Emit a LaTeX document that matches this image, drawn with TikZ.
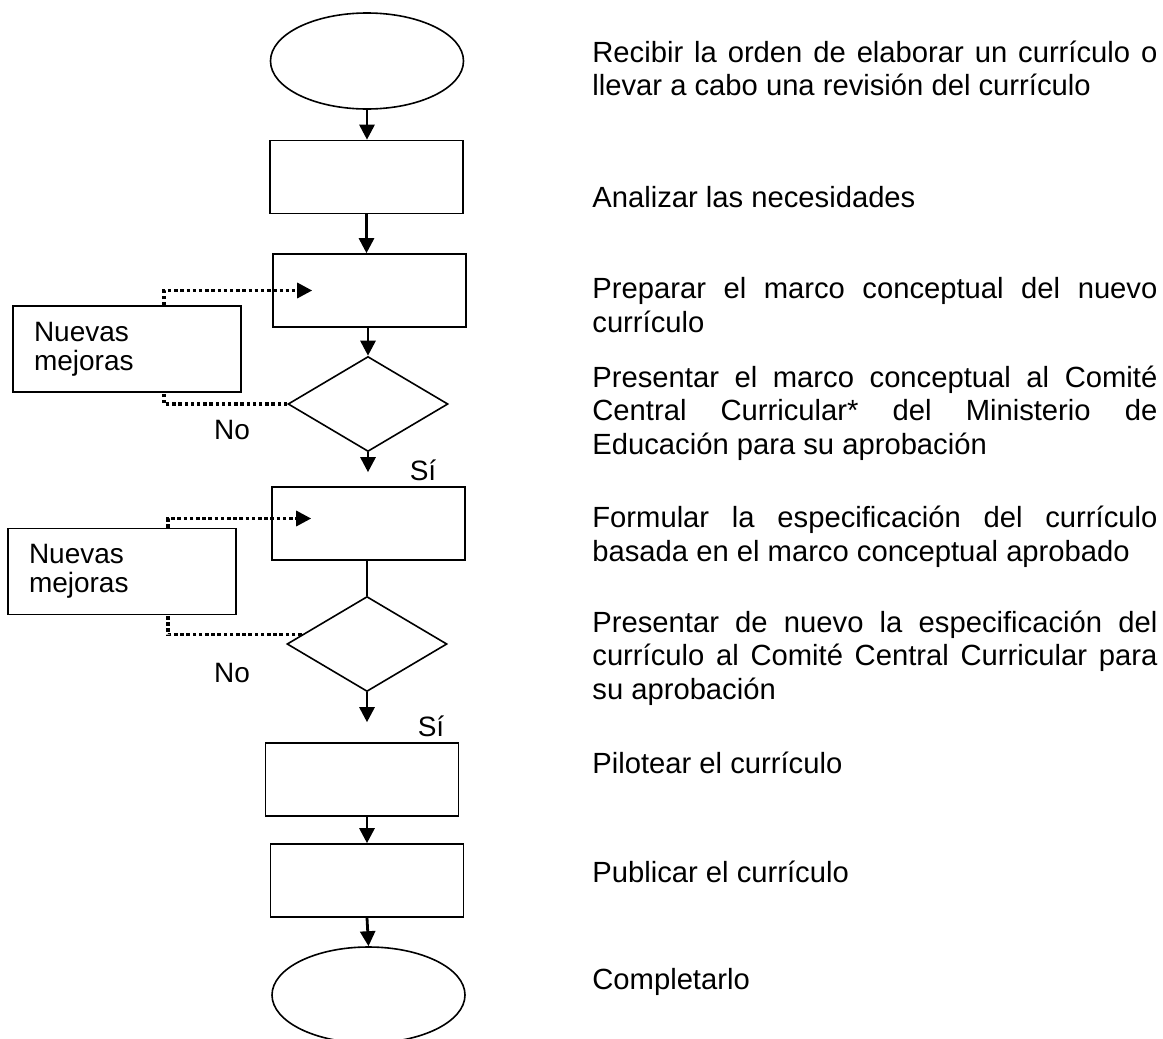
\documentclass[tikz,border=0pt]{standalone}
\usepackage{fontspec}
\setmainfont{Liberation Sans}
\usetikzlibrary{arrows.meta,calc,shapes.geometric}
\newcommand{\boxwidth}{96.5pt}
\newcommand{\boxheight}{36.5pt}
\tolerance=10000
\hbadness=10000
\tikzset{
  >={Triangle[length=7.5pt,width=7.5pt]},
  rect/.style={draw,shape=rectangle,minimum width=\boxwidth,minimum height=\boxheight,inner sep=0,line width=0.8pt},
  term/.style={draw,shape=ellipse,minimum width=\boxwidth,minimum height=48pt,inner sep=0,line width=0.8pt},
  decision/.style={draw,shape=diamond,minimum width=80pt,minimum height=47.5pt,inner sep=0,line width=0.8pt},
  note/.style={draw,shape=rectangle,minimum width=114pt,minimum height=43pt,text width=93pt,inner xsep=10.5pt,inner ysep=0,align=left,font=\fontsize{14}{14.6}\selectfont,line width=0.8pt},
  desc/.style={anchor=west,inner sep=0,text width=282.5pt,align=justify,font=\fontsize{14.6}{16.8}\selectfont},
  lbl/.style={inner sep=0,font=\fontsize{14}{14.6}\selectfont},
  line/.style={draw,->,line width=1.4pt},
  retry/.style={draw,line width=1.6pt,dash pattern=on 1.75pt off 1.35pt},
}
\begin{document}
\begin{tikzpicture}[x=0.5pt,y=-0.5pt]
  \useasboundingbox (0,0) rectangle (1163,1039);
  % main flow
  \node (start) [term] at (367,61) {};
  \node (r1) [rect] at (366.5,177) {};
  \node (r2) [rect] at (369.5,290.5) {};
  \node (d1) [decision] at (368,404) {};
  \node (r3) [rect] at (368.5,523.5) {};
  \node (d2) [decision] at (367,644) {};
  \node (r4) [rect] at (362,779.5) {};
  \node (r5) [rect] at (367,880.5) {};
  \node (stop) [term] at (368.5,995) {};
  \path [line] (start.south) -- (start.south |- r1.north);
  \path [line] (r1.south) -- (r1.south |- r2.north);
  \path [line] (d1.north |- r2.south) -- (d1.north);
  \path [line,shorten >=7pt] (d1.south) -- (d1.south |- r3.north);
  \draw [line width=1.4pt] (d2.north |- r3.south) -- (d2.north);
  \path [line,shorten >=10pt] (d2.south) -- (d2.south |- r4.north);
  \path [line] (r5.north |- r4.south) -- (r5.north);
  \path [line] (r5.south) -- (stop.north);
  % feedback loops
  \node (b1) [note] at (127,349) {Nuevas\\mejoras};
  \node (b2) [note] at (122,571.5) {Nuevas\\mejoras};
  \coordinate (t1) at ($(r2.west)+(40,0)$);
  \coordinate (t2) at ($(r3.west)+(40,-5)$);
  \path [retry] (d1.west) -| ($(b1.south)+(37,0)$);
  \path [retry,->] ($(b1.north)+(37,0)$) |- (t1);
  \path [retry] (d2.172) -| ($(b2.south)+(46,0)$);
  \path [retry,->] ($(b2.north)+(46,0)$) |- (t2);
  \node (no1) [lbl] at (232,430) {No};
  \node (si1) [lbl] at (423,470) {Sí};
  \node (no2) [lbl] at (232,673) {No};
  \node (si2) [lbl] at (431,726) {Sí};
  % descriptions
  \node (x1) [desc] at (592,68.5) {Recibir la orden de elaborar un currículo o\linebreak llevar a cabo una revisión del currículo};
  \node (x2) [desc] at (592,197) {Analizar las necesidades};
  \node (x3) [desc] at (592,305) {Preparar el marco conceptual del nuevo\linebreak currículo};
  \node (x4) [desc] at (592,413) {Presentar el marco conceptual al Comité\linebreak Central Curricular* del Ministerio de\linebreak Educación para su aprobación};
  \node (x5) [desc] at (592,537) {Formular la especificación del currículo\linebreak basada en el marco conceptual aprobado};
  \node (x6) [desc] at (592,658) {Presentar de nuevo la especificación del\linebreak currículo al Comité Central Curricular para\linebreak su aprobación};
  \node (x7) [desc] at (592,763) {Pilotear el currículo};
  \node (x8) [desc] at (592,872) {Publicar el currículo};
  \node (x9) [desc] at (592,982) {Completarlo};
\end{tikzpicture}
\end{document}
